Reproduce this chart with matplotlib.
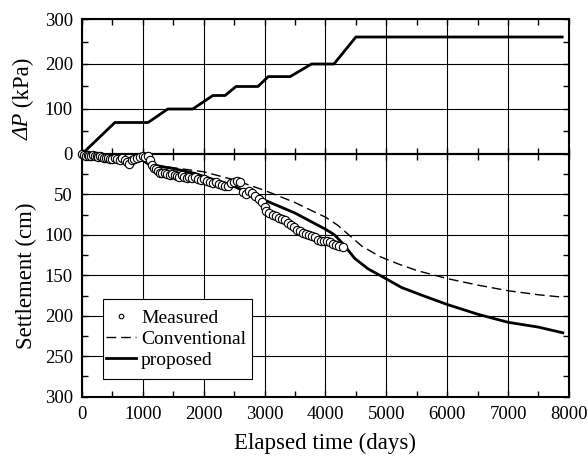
import matplotlib
matplotlib.use("Agg")
import matplotlib.pyplot as plt
from matplotlib.patches import Rectangle
from matplotlib.ticker import MultipleLocator

plt.rcParams['font.family'] = ['Liberation Serif', 'DejaVu Serif']

# load increment (kPa)
load_t = [0, 540, 1085, 1410, 1820, 2150, 2350, 2530, 2890, 3060, 3420, 3770, 4140, 4500, 7890]
load_p = [0, 70, 70, 100, 100, 130, 130, 150, 150, 172, 172, 200, 200, 260, 260]

# measured settlement (cm)
meas_t = [0, 30, 60, 90, 120, 150, 180, 210, 240, 270, 300, 330, 360, 400, 430, 460, 500,
          540, 580, 620, 660, 700, 740, 780, 820, 860, 900, 950, 1000, 1040, 1080, 1120,
          1150, 1180, 1210, 1250, 1280, 1320, 1360, 1400, 1440, 1480, 1520, 1560, 1600,
          1640, 1680, 1720, 1760, 1800, 1850, 1900, 1950, 2000, 2050, 2100, 2150, 2200,
          2250, 2300, 2350, 2400, 2450, 2500, 2550, 2600, 2650, 2700, 2750, 2800, 2850,
          2900, 2950, 3000, 3030, 3080, 3130, 3180, 3230, 3280, 3330, 3380, 3430, 3480,
          3530, 3580, 3630, 3680, 3730, 3780, 3830, 3880, 3930, 3980, 4030, 4080, 4130,
          4180, 4230, 4290]
meas_s = [0, 1, 2, 1, 3, 2, 1, 2, 3, 4, 3, 4, 5, 5, 5, 6, 6,
          5, 6, 7, 5, 7, 10, 12, 8, 6, 5, 4, 3, 4, 3, 8,
          13, 17, 19, 21, 24, 23, 24, 25, 26, 25, 26, 27, 28,
          26, 28, 30, 29, 30, 28, 31, 32, 31, 33, 35, 36, 35,
          37, 38, 39, 40, 36, 34, 33, 35, 47, 49, 46, 48, 52,
          56, 59, 65, 71, 73, 76, 77, 79, 80, 82, 85, 88, 90,
          94, 95, 98, 99, 100, 101, 103, 106, 107, 108, 108, 109, 111,
          113, 114, 115]

# conventional prediction
conv_t = [0, 500, 1000, 1100, 1500, 2000, 2500, 3000, 3500, 3800, 4000, 4200, 4400, 4600,
          4900, 5200, 5500, 6000, 6500, 7000, 7500, 7900]
conv_s = [0, 4, 8, 12, 17, 22, 32, 45, 60, 71, 78, 88, 101, 114,
          127, 136, 144, 154, 162, 169, 174, 177]

# proposed prediction
prop_t = [0, 500, 1000, 1100, 1500, 1855, 2500, 3000, 3500, 3800, 4000, 4150, 4300, 4480,
          4700, 4920, 5250, 5600, 6000, 6500, 7000, 7500, 7900]
prop_s = [0, 4, 8, 13, 18, 24, 40, 57, 73, 85, 93, 100, 112, 129,
          142, 151, 165, 175, 186, 198, 208, 214, 221]

fig = plt.figure(figsize=(5.88, 4.59), dpi=100)
ax1 = fig.add_axes([0.1395, 0.6645, 0.828, 0.2941])
ax2 = fig.add_axes([0.1395, 0.1357, 0.828, 0.5288])

ax1.plot(load_t, load_p, color='k', lw=2)
ax1.set_xlim(0, 8000)
ax1.set_ylim(0, 300)
ax1.set_yticks([100, 200, 300])
ax1.yaxis.set_minor_locator(MultipleLocator(50))
ax1.xaxis.set_major_locator(MultipleLocator(1000))
ax1.xaxis.set_minor_locator(MultipleLocator(500))
ax1.tick_params(labelbottom=False)

ax2.plot(conv_t, conv_s, color='k', lw=1, dashes=(7, 3.5), label='Conventional')
ax2.plot(prop_t, prop_s, color='k', lw=2, label='proposed')
ax2.plot(meas_t, meas_s, 'o', ms=6, mfc='white', mec='k', mew=0.8, clip_on=False,
         zorder=5, label='Measured')
ax2.set_xlim(0, 8000)
ax2.set_ylim(300, 0)
ax2.yaxis.set_major_locator(MultipleLocator(50))
ax2.yaxis.set_minor_locator(MultipleLocator(25))
ax2.xaxis.set_major_locator(MultipleLocator(1000))
ax2.xaxis.set_minor_locator(MultipleLocator(500))

for ax in (ax1, ax2):
    ax.grid(True, which='major', color='k', lw=0.8)
    ax.tick_params(which='both', direction='in', top=True, right=True, length=4,
                   width=1, labelsize=13.5, pad=6.5)
    for s in ax.spines.values():
        s.set_linewidth(1.5)

ax2.set_xlabel('Elapsed time (days)', fontsize=16.5, labelpad=7)
ax2.set_ylabel('Settlement (cm)', fontsize=16.5, labelpad=6)

# ΔP label: italic symbol + upright unit
t1 = fig.text(23 / 588, 1 - 140 / 459, 'ΔP', rotation=90, style='italic',
              fontsize=16.5, ha='center', va='bottom')
ax1.annotate(' (kPa)', xy=(0.5, 1), xycoords=t1, rotation=90, fontsize=16.5,
             ha='center', va='bottom')

# legend box drawn separately so its padding can match the reference
box = Rectangle((103 / 588, 1 - 379 / 459), 149 / 588, 80 / 459,
                transform=fig.transFigure, facecolor='white', edgecolor='k',
                lw=0.8, zorder=6)
ax2.add_artist(box)
box.set_clip_on(False)

h, l = ax2.get_legend_handles_labels()
order = [2, 0, 1]
leg = ax2.legend([h[i] for i in order], [l[i] for i in order], loc='center left',
                 bbox_to_anchor=(104 / 588, 1 - 339 / 459), bbox_transform=fig.transFigure,
                 fontsize=14, frameon=False, handlelength=1.55, handletextpad=0.25,
                 labelspacing=0.17, borderpad=0.1, markerscale=0.55, borderaxespad=0)
leg.set_zorder(7)

fig.savefig('out.png', dpi=100)
